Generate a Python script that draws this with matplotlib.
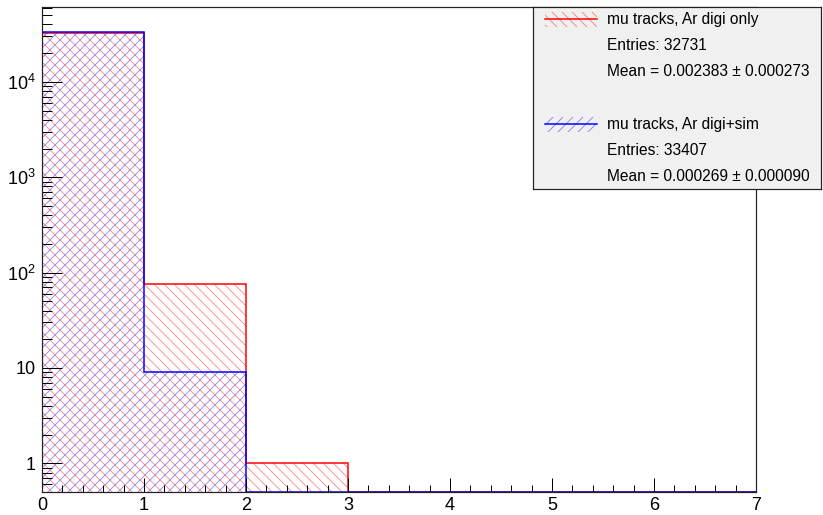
import numpy as np
import matplotlib
matplotlib.use('Agg')
import matplotlib.pyplot as plt
from matplotlib.ticker import FixedLocator, FixedFormatter, LogLocator, MultipleLocator, NullFormatter
from matplotlib.patches import Rectangle

# histogram contents (7 unit bins from 0 to 7)
bin_edges = np.arange(0, 8)
digi_only = np.array([32654, 76, 1, 0, 0, 0, 0])
digi_sim = np.array([33398, 9, 0, 0, 0, 0, 0])

labels = ['mu tracks, Ar digi only', 'mu tracks, Ar digi+sim']
entries = [32731, 33407]
means = ['0.002383 \u00b1 0.000273', '0.000269 \u00b1 0.000090']

y_ticks = [1, 10, 100, 1000, 10000]
y_labels = ['1', '10', r'$10^{2}$', r'$10^{3}$', r'$10^{4}$']
x_ticks = [0, 1, 2, 3, 4, 5, 6, 7]

DPI = 120
W, H = 823, 515


def pt(px):
    return px * 72.0 / DPI


plt.rcParams['font.family'] = ['Liberation Sans', 'DejaVu Sans']
plt.rcParams['mathtext.fontset'] = 'custom'
plt.rcParams['mathtext.rm'] = 'Liberation Sans'
plt.rcParams['mathtext.default'] = 'regular'
plt.rcParams['hatch.linewidth'] = pt(0.9)

ymin, ymax = 0.5, 6.1e4
line_colors = ['#ff0000', '#0000ff']
hatch_colors = [(1, 0, 0, 0.45), (0, 0, 1, 0.45)]
hatches = ['\\\\\\\\', '////']

fig = plt.figure(figsize=((W + 0.01) / DPI, (H + 0.01) / DPI), dpi=DPI)
ax = fig.add_axes([42 / W, 1 - 492 / H, (756 - 42) / W, (492 - 7) / H])
ax.set_yscale('log')

for vals, lc, hc, h in zip([digi_only, digi_sim], line_colors, hatch_colors, hatches):
    # empty bins are drawn on the bottom of the frame
    shown = np.where(vals > 0, vals, ymin)
    ax.stairs(shown, bin_edges, baseline=ymin, fill=True, facecolor='none',
              edgecolor=hc, hatch=h, linewidth=0)
    ax.stairs(shown, bin_edges, baseline=ymin, color=lc, linewidth=pt(1.5))

ax.set_xlim(0, 7)
ax.set_ylim(ymin, ymax)

ax.xaxis.set_major_locator(FixedLocator(x_ticks))
ax.xaxis.set_minor_locator(MultipleLocator(0.2))
ax.yaxis.set_major_locator(FixedLocator(y_ticks))
ax.yaxis.set_major_formatter(FixedFormatter(y_labels))
ax.yaxis.set_minor_locator(LogLocator(base=10, subs=np.arange(2, 10), numticks=20))
ax.yaxis.set_minor_formatter(NullFormatter())

ax.tick_params(axis='x', which='major', direction='in', length=pt(14), width=pt(1),
               labelsize=pt(18), pad=pt(5))
ax.tick_params(axis='x', which='minor', direction='in', length=pt(7), width=pt(1))
ax.tick_params(axis='y', which='major', direction='in', length=pt(20), width=pt(1),
               labelsize=pt(18), pad=pt(6))
ax.tick_params(axis='y', which='minor', direction='in', length=pt(10), width=pt(1))
for s in ax.spines.values():
    s.set_linewidth(pt(1.2))
    s.set_color('#222222')

# legend box, laid out in pixel units
lx = fig.add_axes([533 / W, 1 - 189 / H, (821 - 533) / W, (189 - 7) / H])
lx.set_xlim(533, 821)
lx.set_ylim(189, 7)
lx.set_facecolor('#f0f0f0')
lx.set_xticks([])
lx.set_yticks([])
for s in lx.spines.values():
    s.set_linewidth(pt(1.2))
    s.set_color('#222222')

row = 26.2
for i in range(2):
    y0 = 19.5 + 4 * row * i
    lx.add_patch(Rectangle((545, y0 - 7.5), 52, 15, facecolor='none',
                           edgecolor=hatch_colors[i], hatch=hatches[i], linewidth=0))
    lx.plot([545, 597], [y0, y0], color=line_colors[i], linewidth=pt(1.5))
    texts = [labels[i], 'Entries: %d' % entries[i], 'Mean = ' + means[i]]
    for k, t in enumerate(texts):
        lx.text(607, y0 + k * row, t, ha='left', va='center', fontsize=pt(15.5))

fig.savefig('out.png', dpi=DPI)
